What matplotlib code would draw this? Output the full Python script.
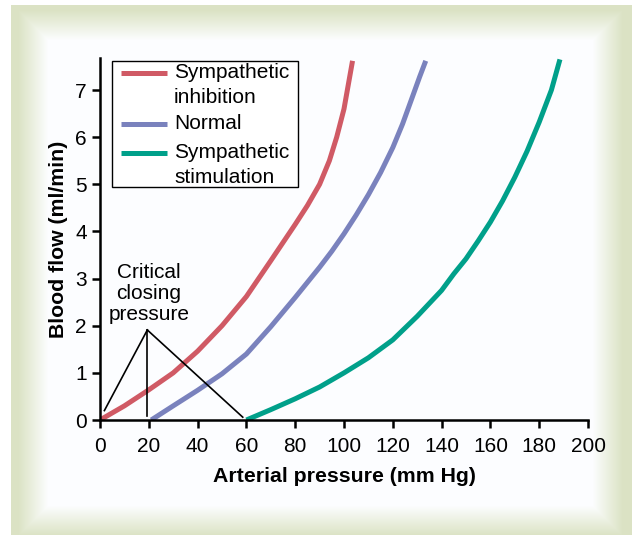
import matplotlib.pyplot as plt
import numpy as np

plt.rcParams['font.family'] = ['Liberation Sans', 'DejaVu Sans']

# Curves (arterial pressure mm Hg, blood flow ml/min)
inhib_x = [0, 10, 20, 30, 40, 50, 60, 70, 80, 85, 90, 94, 97, 100, 103.5]
inhib_y = [0, 0.3, 0.64, 1.0, 1.46, 2.0, 2.62, 3.38, 4.15, 4.55, 5.0, 5.5, 6.0, 6.6, 7.62]

normal_x = [21, 30, 40, 50, 60, 70, 80, 85, 90, 95, 100, 105, 110, 115, 120, 124, 128, 131, 133.5]
normal_y = [0, 0.3, 0.63, 0.98, 1.4, 1.98, 2.6, 2.92, 3.24, 3.58, 3.95, 4.35, 4.78, 5.25, 5.78, 6.28, 6.85, 7.28, 7.62]

stim_x = [60, 70, 80, 90, 100, 110, 120, 130, 140, 145, 150, 155, 160, 165, 170, 175, 180, 185, 188.5]
stim_y = [0, 0.22, 0.45, 0.7, 1.0, 1.32, 1.7, 2.2, 2.75, 3.1, 3.42, 3.8, 4.2, 4.65, 5.15, 5.7, 6.32, 7.0, 7.65]

labels = ['Sympathetic\ninhibition', 'Normal', 'Sympathetic\nstimulation']
colors = ['#d05a65', '#7a82bd', '#00a08a']

# critical closing pressure pointer lines (apex -> targets)
apex = (19.4, 1.91)
targets = [(1.8, 0.2), (19.4, 0.08), (58.5, 0.06)]

W, H = 634, 536
fig = plt.figure(figsize=(W / 100, H / 100), dpi=100)

# background frame: light green border fading into a white panel
yy, xx = np.mgrid[0:H, 0:W]
dx = np.maximum(np.maximum(48 - xx, xx - 592), 0)
dy = np.maximum(np.maximum(40 - yy, yy - 505), 0)
d = np.clip(np.maximum(dx, dy) / 30.0, 0, 1)
green = np.array([0.86, 0.89, 0.77])
white = np.array([0.99, 0.995, 1.0])
img = white + (green - white) * d[..., None]
outside = (xx < 11) | (xx > 631) | (yy < 5) | (yy > 534)
img[outside] = 1.0
bg = fig.add_axes([0, 0, 1, 1], zorder=-1)
bg.imshow(img, aspect='auto', interpolation='nearest')
bg.axis('off')

ax = fig.add_axes([100 / W, 1 - 420 / H, 488 / W, 362 / H])
ax.patch.set_alpha(0)

for xs, ys, c in zip([inhib_x, normal_x, stim_x], [inhib_y, normal_y, stim_y], colors):
    ax.plot(xs, ys, color=c, lw=3.6, solid_capstyle='butt', solid_joinstyle='round')

for tx, ty in targets:
    ax.plot([apex[0], tx], [apex[1], ty], color='black', lw=1.2)

ax.text(20, 2.69, 'Critical\nclosing\npressure', ha='center', va='center',
        fontsize=15, linespacing=1.12)

ax.set_xlim(0, 200)
ax.set_ylim(0, 7.68)
ax.set_xticks(np.arange(0, 201, 20))
ax.set_yticks(np.arange(0, 8, 1))
ax.tick_params(labelsize=15, width=1.8, length=6, direction='out')
ax.tick_params(axis='x', pad=6)
for s in ['top', 'right']:
    ax.spines[s].set_visible(False)
for s in ['left', 'bottom']:
    ax.spines[s].set_linewidth(1.8)

ax.set_xlabel('Arterial pressure (mm Hg)', fontsize=15.3, fontweight='bold', labelpad=8)
ax.set_ylabel('Blood flow (ml/min)', fontsize=15.3, fontweight='bold', labelpad=5)

# legend drawn by hand so the line sits beside the first text line
tr = ax.transAxes
ax.add_patch(plt.Rectangle((0.0246, 0.6436), 0.3811, 0.3481, transform=tr,
                           fill=True, facecolor='white', edgecolor='black', lw=1.0,
                           zorder=3, clip_on=False))
entry_y = [0.9586, 0.8177, 0.7376]
line_step = 25 / 362
for lab, c, y0 in zip(labels, colors, entry_y):
    ax.plot([0.043, 0.137], [y0, y0], color=c, lw=3.6, transform=tr,
            solid_capstyle='butt', zorder=4, clip_on=False)
    for i, part in enumerate(lab.split('\n')):
        ax.text(0.1516, y0 - i * line_step, part, transform=tr, ha='left',
                va='center', fontsize=15, zorder=4)

fig.savefig('out.png', dpi=100)
